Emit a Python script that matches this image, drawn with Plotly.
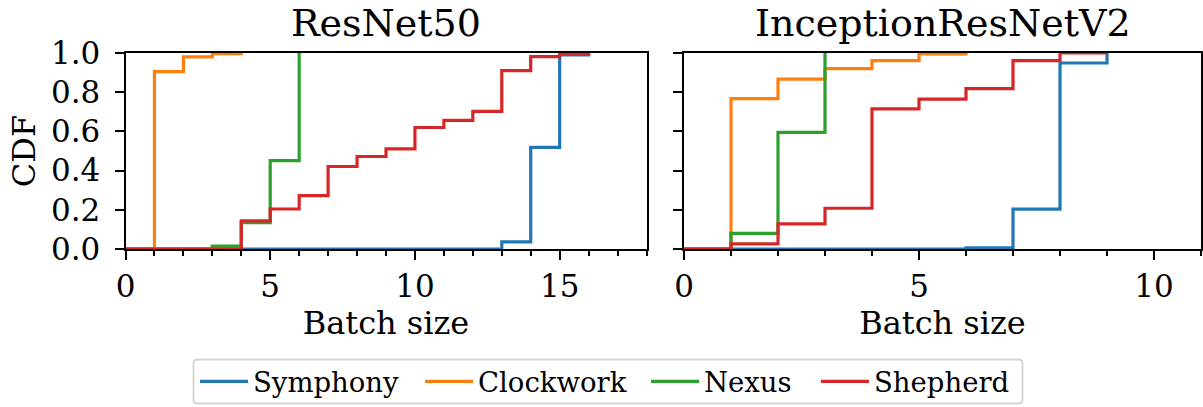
import plotly.graph_objects as go

# Batch sizes (integer steps) and cumulative fractions per scheduler
resnet_x = {
    "Symphony": [0, 13, 14, 15, 16],
    "Clockwork": [0, 1, 2, 3, 4],
    "Nexus": [0, 3, 4, 5, 6],
    "Shepherd": [0, 4, 5, 6, 7, 8, 9, 10, 11, 12, 13, 14, 15, 16],
}
resnet_cdf = {
    "Symphony": [0.0, 0.036, 0.518, 0.99, 1.0],
    "Clockwork": [0.0, 0.905, 0.98, 0.997, 1.0],
    "Nexus": [0.0, 0.015, 0.135, 0.451, 1.0],
    "Shepherd": [0.0, 0.143, 0.204, 0.272, 0.421, 0.472, 0.511, 0.62,
                 0.656, 0.702, 0.91, 0.981, 0.997, 1.0],
}

inception_x = {
    "Symphony": [0, 6, 7, 8, 9],
    "Clockwork": [0, 1, 2, 3, 4, 5, 6],
    "Nexus": [0, 1, 2, 3],
    "Shepherd": [0, 1, 2, 3, 4, 5, 6, 7, 8, 9],
}
inception_cdf = {
    "Symphony": [0.0, 0.006, 0.203, 0.949, 1.0],
    "Clockwork": [0.0, 0.767, 0.867, 0.92, 0.961, 0.995, 1.0],
    "Nexus": [0.0, 0.08, 0.595, 1.0],
    "Shepherd": [0.0, 0.026, 0.128, 0.208, 0.715, 0.765, 0.818, 0.961, 1.0, 1.0],
}

series = ["Symphony", "Clockwork", "Nexus", "Shepherd"]
colors = {"Symphony": "#1f77b4", "Clockwork": "#ff7f0e",
          "Nexus": "#2ca02c", "Shepherd": "#d62728"}

panel_titles = ["ResNet50", "InceptionResNetV2"]
x_ranges = [[0, 18], [0, 11]]

FONT = "DejaVu Serif"
W, H = 1203, 407
LW = 3.2


def px(xp):
    return xp / W


def py(yp):
    return (H - yp) / H


legend_ids = ["legend", "legend2", "legend3", "legend4"]
# left edge (pixels) of each legend entry inside the shared frame
legend_left = [195, 420, 646, 816]

fig = go.Figure()

for name, lid in zip(series, legend_ids):
    fig.add_trace(go.Scatter(
        x=resnet_x[name], y=resnet_cdf[name], mode="lines",
        line=dict(color=colors[name], width=LW, shape="hv"),
        name=name, legendgroup=name, showlegend=True, legend=lid,
        xaxis="x", yaxis="y"))
for name, lid in zip(series, legend_ids):
    fig.add_trace(go.Scatter(
        x=inception_x[name], y=inception_cdf[name], mode="lines",
        line=dict(color=colors[name], width=LW, shape="hv"),
        name=name, legendgroup=name, showlegend=False, legend=lid,
        xaxis="x2", yaxis="y2"))

# Panel geometry in pixels
left_px = (125.5, 646.5)
right_px = (684, 1201)
top_px, bot_px = 53, 249
ydom = [py(bot_px), py(top_px)]

axis_common = dict(
    showline=True, linecolor="black", linewidth=2, mirror=True,
    ticks="outside", ticklen=9, tickwidth=2, tickcolor="black",
    showgrid=False, zeroline=False, automargin=False,
    tickfont=dict(family=FONT, size=31, color="black"),
)
minor_x = dict(dtick=1, tick0=0, ticks="outside", ticklen=5,
               tickwidth=1.5, tickcolor="black")
label_font = dict(family=FONT, size=32, color="black")

layout = dict(
    width=W, height=H,
    margin=dict(l=0, r=0, t=0, b=0),
    paper_bgcolor="white", plot_bgcolor="white",
    font=dict(family=FONT, color="black"),
    xaxis=dict(domain=[px(left_px[0]), px(left_px[1])], range=x_ranges[0],
               dtick=5, tick0=0, anchor="y", minor=minor_x,
               title=dict(text="Batch size", font=label_font, standoff=2),
               **axis_common),
    yaxis=dict(domain=ydom, range=[0, 1], dtick=0.2, tick0=0,
               tickformat=".1f", anchor="x", ticklabelstandoff=8,
               title=dict(text="CDF", font=label_font, standoff=6),
               **axis_common),
    xaxis2=dict(domain=[px(right_px[0]), px(right_px[1])], range=x_ranges[1],
                dtick=5, tick0=0, anchor="y2", minor=minor_x,
                title=dict(text="Batch size", font=label_font, standoff=2),
                **axis_common),
    yaxis2=dict(domain=ydom, range=[0, 1], dtick=0.2, tick0=0,
                showticklabels=False, anchor="x2",
                **axis_common),
)
for lid, left in zip(legend_ids, legend_left):
    layout[lid] = dict(
        orientation="h", x=px(left), xanchor="left",
        y=py(381.5), yanchor="middle",
        font=dict(family=FONT, size=27.5, color="black"),
        borderwidth=0, bgcolor="rgba(0,0,0,0)",
        itemwidth=48,
    )
fig.update_layout(**layout)

# Shared rounded frame around the legend entries
x0, x1, y0, y1, r = 193.5, 1022.5, 359.5, 403.5, 4
frame = (f"M{px(x0 + r)},{py(y0)} L{px(x1 - r)},{py(y0)} "
         f"Q{px(x1)},{py(y0)} {px(x1)},{py(y0 + r)} "
         f"L{px(x1)},{py(y1 - r)} Q{px(x1)},{py(y1)} {px(x1 - r)},{py(y1)} "
         f"L{px(x0 + r)},{py(y1)} Q{px(x0)},{py(y1)} {px(x0)},{py(y1 - r)} "
         f"L{px(x0)},{py(y0 + r)} Q{px(x0)},{py(y0)} {px(x0 + r)},{py(y0)} Z")
fig.add_shape(type="path", path=frame, xref="paper", yref="paper",
              line=dict(color="#d4d4d4", width=1.8), fillcolor="white",
              layer="below")

for title, (a, b) in zip(panel_titles, [left_px, right_px]):
    fig.add_annotation(
        text=title, x=px((a + b) / 2), y=py(23),
        xref="paper", yref="paper", xanchor="center", yanchor="middle",
        showarrow=False, font=dict(family=FONT, size=38, color="black"))

fig.write_html("out.html")
